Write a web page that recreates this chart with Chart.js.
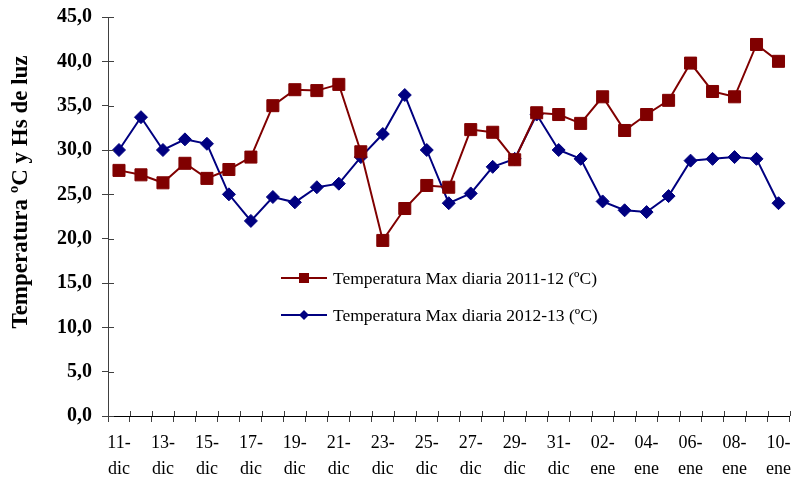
<!DOCTYPE html>
<html>
<head>
<meta charset="utf-8">
<script src="https://cdn.jsdelivr.net/npm/chart.js@4/dist/chart.umd.min.js"></script>
<style>
  html, body { margin: 0; padding: 0; background: #fff; }
  #wrap { width: 799px; height: 480px; position: relative; }
</style>
</head>
<body>
<div id="wrap"><canvas id="c" width="799" height="480"></canvas></div>
<script>
// Días del período (11-dic a 10-ene)
const dias = [
  '11-dic','12-dic','13-dic','14-dic','15-dic','16-dic','17-dic','18-dic','19-dic','20-dic',
  '21-dic','22-dic','23-dic','24-dic','25-dic','26-dic','27-dic','28-dic','29-dic','30-dic',
  '31-dic','01-ene','02-ene','03-ene','04-ene','05-ene','06-ene','07-ene','08-ene','09-ene','10-ene'
];

// Temperatura máxima diaria (ºC)
const tmax2011 = [
  27.7, 27.2, 26.3, 28.5, 26.8, 27.8, 29.2, 35.0, 36.8, 36.7,
  37.4, 29.8, 19.8, 23.4, 26.0, 25.8, 32.3, 32.0, 28.9, 34.2,
  34.0, 33.0, 36.0, 32.2, 34.0, 35.6, 39.8, 36.6, 36.0, 41.9, 40.0
];
const tmax2012 = [
  30.0, 33.7, 30.0, 31.2, 30.7, 25.0, 22.0, 24.7, 24.1, 25.8,
  26.2, 29.2, 31.8, 36.2, 30.0, 24.0, 25.1, 28.1, 29.0, 34.0,
  30.0, 29.0, 24.2, 23.2, 23.0, 24.8, 28.8, 29.0, 29.2, 29.0, 24.0
];

const tituloY = 'Temperatura ºC y Hs de luz';

const ROJO = '#800000';
const AZUL = '#000080';
const SERIF = '"Liberation Serif", "Times New Roman", serif';

// Marcas de eje que cruzan la línea del eje (mitad interior)
const marcasInteriores = {
  id: 'marcasInteriores',
  afterDraw(chart) {
    const { ctx, scales: { x, y }, chartArea } = chart;
    ctx.save();
    ctx.strokeStyle = '#404040';
    ctx.lineWidth = 1;
    ctx.beginPath();
    y.ticks.forEach((t, i) => {
      const py = Math.round(y.getPixelForTick(i)) + 0.5;
      ctx.moveTo(chartArea.left, py);
      ctx.lineTo(chartArea.left + 6, py);
    });
    for (let i = 0; i <= dias.length; i++) {
      const px = Math.round(x.getPixelForValue(i - 0.5)) + 0.5;
      ctx.moveTo(px, chartArea.bottom);
      ctx.lineTo(px, chartArea.bottom - 5);
    }
    ctx.stroke();
    ctx.restore();
  }
};

// Título vertical del eje Y
const tituloEje = {
  id: 'tituloEje',
  afterDraw(chart) {
    const { ctx } = chart;
    ctx.save();
    ctx.translate(21, 192);
    ctx.rotate(-Math.PI / 2);
    ctx.fillStyle = '#000';
    ctx.font = 'bold 23px ' + SERIF;
    ctx.textAlign = 'center';
    ctx.textBaseline = 'middle';
    ctx.fillText(tituloY, 0, 0);
    ctx.restore();
  }
};

// Leyenda dentro del área de trazado
const leyenda = {
  id: 'leyenda',
  afterDraw(chart) {
    const { ctx, chartArea } = chart;
    const x0 = chartArea.left + 173;
    const filas = [
      { y: chartArea.top + 261, idx: 0 },
      { y: chartArea.top + 298, idx: 1 }
    ];
    ctx.save();
    filas.forEach(f => {
      const ds = chart.data.datasets[f.idx];
      ctx.strokeStyle = ds.borderColor;
      ctx.lineWidth = 2;
      ctx.beginPath();
      ctx.moveTo(x0, f.y);
      ctx.lineTo(x0 + 46, f.y);
      ctx.stroke();
      ctx.fillStyle = ds.backgroundColor;
      ctx.beginPath();
      if (ds.pointStyle === 'rect') {
        ctx.rect(x0 + 23 - 5, f.y - 5, 10, 10);
      } else {
        ctx.moveTo(x0 + 23, f.y - 5);
        ctx.lineTo(x0 + 28, f.y);
        ctx.lineTo(x0 + 23, f.y + 5);
        ctx.lineTo(x0 + 18, f.y);
        ctx.closePath();
      }
      ctx.fill();
      ctx.fillStyle = '#000';
      ctx.font = '17.5px ' + SERIF;
      ctx.textBaseline = 'middle';
      ctx.fillText(ds.label, x0 + 52, f.y + 1);
    });
    ctx.restore();
  }
};

new Chart(document.getElementById('c'), {
  type: 'line',
  data: {
    labels: dias,
    datasets: [
      {
        label: 'Temperatura Max diaria 2011-12 (ºC)',
        data: tmax2011,
        borderColor: ROJO,
        backgroundColor: ROJO,
        borderWidth: 2,
        pointStyle: 'rect',
        pointRadius: 8.5,
        pointBorderWidth: 1,
        tension: 0
      },
      {
        label: 'Temperatura Max diaria 2012-13 (ºC)',
        data: tmax2012,
        borderColor: AZUL,
        backgroundColor: AZUL,
        borderWidth: 2,
        pointStyle: 'rectRot',
        pointRadius: 6.5,
        pointBorderWidth: 1,
        tension: 0
      }
    ]
  },
  options: {
    responsive: false,
    animation: false,
    devicePixelRatio: 1,
    layout: { padding: { top: 17, right: 6, left: 0, bottom: 0 } },
    plugins: {
      legend: { display: false },
      tooltip: { enabled: false }
    },
    scales: {
      x: {
        offset: true,
        grid: {
          offset: true,
          drawOnChartArea: false,
          drawTicks: true,
          tickLength: 6,
          color: '#404040'
        },
        border: { display: true, color: '#000', width: 1 },
        ticks: {
          autoSkip: false,
          maxRotation: 0,
          minRotation: 0,
          padding: 8,
          color: '#000',
          font: { family: SERIF, size: 18, lineHeight: 1.45 },
          callback(v, i) {
            if (i % 2 !== 0) return '';
            const p = dias[i].split('-');
            return [p[0] + '-', p[1]];
          }
        },
        afterFit(s) { s.height = 64; s.paddingLeft = 0; s.paddingRight = 0; }
      },
      y: {
        min: 0,
        max: 45,
        grid: {
          drawOnChartArea: false,
          drawTicks: true,
          tickLength: 6,
          color: '#404040'
        },
        border: { display: true, color: '#404040', width: 1 },
        ticks: {
          stepSize: 5,
          padding: 10,
          color: '#000',
          font: { family: SERIF, size: 20, weight: 'bold' },
          callback(v) { return v.toFixed(1).replace('.', ','); }
        },
        afterFit(s) { s.width = 108; s.paddingTop = 0; s.paddingBottom = 0; }
      }
    }
  },
  plugins: [marcasInteriores, tituloEje, leyenda]
});
</script>
</body>
</html>
